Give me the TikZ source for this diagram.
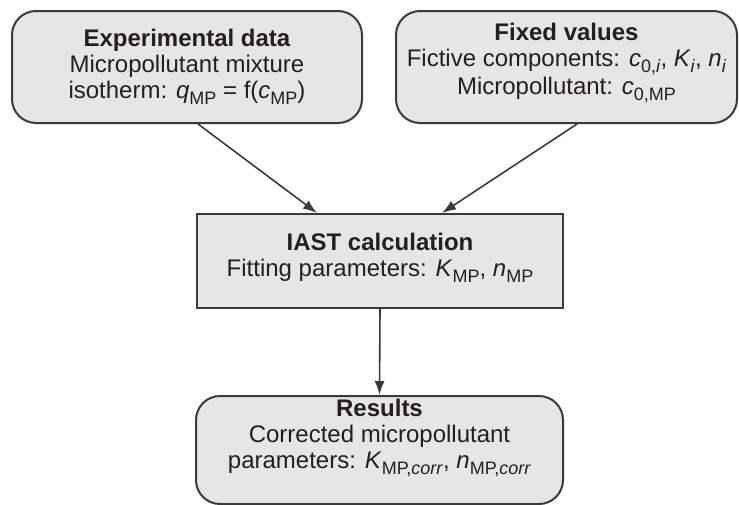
\documentclass[tikz,border=0pt]{standalone}
\usepackage{fontspec}
\setmainfont{Liberation Sans}
\setsansfont{Liberation Sans}
\usepackage{tikz}
\usetikzlibrary{arrows.meta}

\definecolor{boxfill}{HTML}{E6E6E6}
\definecolor{boxline}{HTML}{3A3A3A}
\definecolor{txtcol}{HTML}{231F20}

% lowered subscript, as set in the figure
\newcommand{\lowsub}[1]{\raisebox{-0.5ex}{\fontsize{9}{9}\selectfont #1}}

\begin{document}
\begin{tikzpicture}[x=0.5pt, y=-0.5pt,
		flowbox/.style={draw=boxline, line width=1pt, fill=boxfill, inner sep=0pt},
		roundbox/.style={flowbox, rounded corners=12pt},
		boxtext/.style={align=center, text=txtcol, font=\fontsize{12}{13}\selectfont, inner sep=0pt},
		flow/.style={draw=boxline, line width=0.8pt, -{Latex[length=7pt, width=5pt]}}]
	
	\useasboundingbox (0,0) rectangle (739,504);
	
	% Experimental data box
	\node[roundbox, minimum width=175pt, minimum height=56pt] (exp) at (187,67) {};
	\node[boxtext] (exptext) at (187,67) {\textbf{Experimental data}\\Micropollutant mixture\\isotherm: \textit{q}\lowsub{MP} = f(\textit{c}\lowsub{MP})};
	
	% Fixed values box
	\node[roundbox, minimum width=170.5pt, minimum height=56pt] (fixed) at (566.5,67) {};
	\node[boxtext] (fixedtext) at (566.5,63) {\textbf{Fixed values}\\Fictive components: \textit{c}\lowsub{0,\textit{i}}, \textit{K}\lowsub{\textit{i}}, \textit{n}\lowsub{\textit{i}}\\Micropollutant: \textit{c}\lowsub{0,MP}};
	
	% IAST calculation box
	\node[flowbox, minimum width=183pt, minimum height=47pt] (iast) at (380,261) {};
	\node[boxtext] (iasttext) at (380,258) {\textbf{IAST calculation}\\Fitting parameters: \textit{K}\lowsub{MP}, \textit{n}\lowsub{MP}};
	
	% Results box
	\node[roundbox, minimum width=183.5pt, minimum height=54pt] (results) at (379.5,450) {};
	\node[boxtext] (resultstext) at (379.5,438) {\textbf{Results}\\Corrected micropollutant\\parameters: \textit{K}\lowsub{MP,\textit{corr}}, \textit{n}\lowsub{MP,\textit{corr}}};
	
	% Connecting arrows
	\draw[flow] ([xshift=5.5pt]exp.south) -- ([xshift=-31.5pt]iast.north);
	\draw[flow] ([xshift=5.25pt]fixed.south) -- ([xshift=31pt]iast.north);
	\draw[flow] (iast.south) -- (results.north);
	
\end{tikzpicture}
\end{document}
